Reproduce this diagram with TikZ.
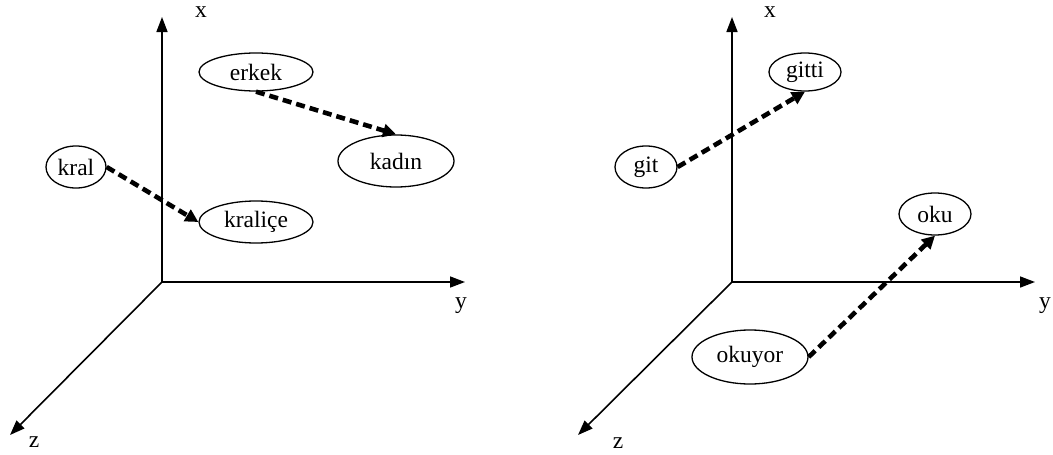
\documentclass[tikz,border=0pt]{standalone}
\usepackage{fontspec}
\setmainfont{Liberation Serif}
\usetikzlibrary{shapes.geometric,arrows.meta}

\tikzset{
  word/.style={draw, ellipse, line width=1.3pt, inner sep=0pt,
    font=\fontsize{23.5}{28}\selectfont},
  axis/.style={line width=1.6pt, -{Triangle[length=15pt,width=11pt]}},
  wordshift/.style={line width=4.6pt, dash pattern=on 9pt off 5pt,
    -{Triangle[length=13pt,width=13pt]}},
  axlabel/.style={anchor=base, inner sep=0pt, font=\fontsize{23.5}{28}\selectfont}
}

\begin{document}
\begin{tikzpicture}[x=1pt,y=-1pt]
\useasboundingbox (0,0) rectangle (1053,455);

% ---------- left: king / queen, man / woman ----------
\coordinate (o1) at (162,282);
\coordinate (x1) at (162,17);
\coordinate (y1) at (465,282);
\coordinate (z1) at (10,435);
\draw[axis] (o1) -- (x1);
\draw[axis] (o1) -- (y1);
\draw[axis] (o1) -- (z1);
\node[axlabel] (lx1) at (201,17.5) {x};
\node[axlabel] (ly1) at (461,308) {y};
\node[axlabel] (lz1) at (34,447) {z};

\node[word, minimum width=114pt, minimum height=38pt] (erkek) at (256,72) {erkek};
\node[word, minimum width=116pt, minimum height=52pt] (kadin) at (396,161) {kadın};
\node[word, minimum width=60pt, minimum height=42pt] (kral) at (76,167) {kral};
\node[word, minimum width=114pt, minimum height=42pt] (kralice) at (256,222) {kraliçe};

\draw[wordshift] (erkek.south) -- (kadin.north);
\draw[wordshift] (kral.east) -- (kralice.west);

% ---------- right: go / went, read / reading ----------
\coordinate (o2) at (732,282);
\coordinate (x2) at (732,17);
\coordinate (y2) at (1035,282);
\coordinate (z2) at (578,435);
\draw[axis] (o2) -- (x2);
\draw[axis] (o2) -- (y2);
\draw[axis] (o2) -- (z2);
\node[axlabel] (lx2) at (770,17.5) {x};
\node[axlabel] (ly2) at (1045,308) {y};
\node[axlabel] (lz2) at (618,448) {z};

\node[word, minimum width=72pt, minimum height=38pt] (gitti) at (805,72) {gitti};
\node[word, minimum width=62pt, minimum height=42pt] (git) at (646,167) {git};
\node[word, minimum width=72pt, minimum height=42pt] (oku) at (935,214) {oku};
\node[word, minimum width=116pt, minimum height=54pt] (okuyor) at (750,357) {okuyor};

\draw[wordshift] (git.east) -- (gitti.south);
\draw[wordshift] (okuyor.east) -- (oku.south);
\end{tikzpicture}
\end{document}
